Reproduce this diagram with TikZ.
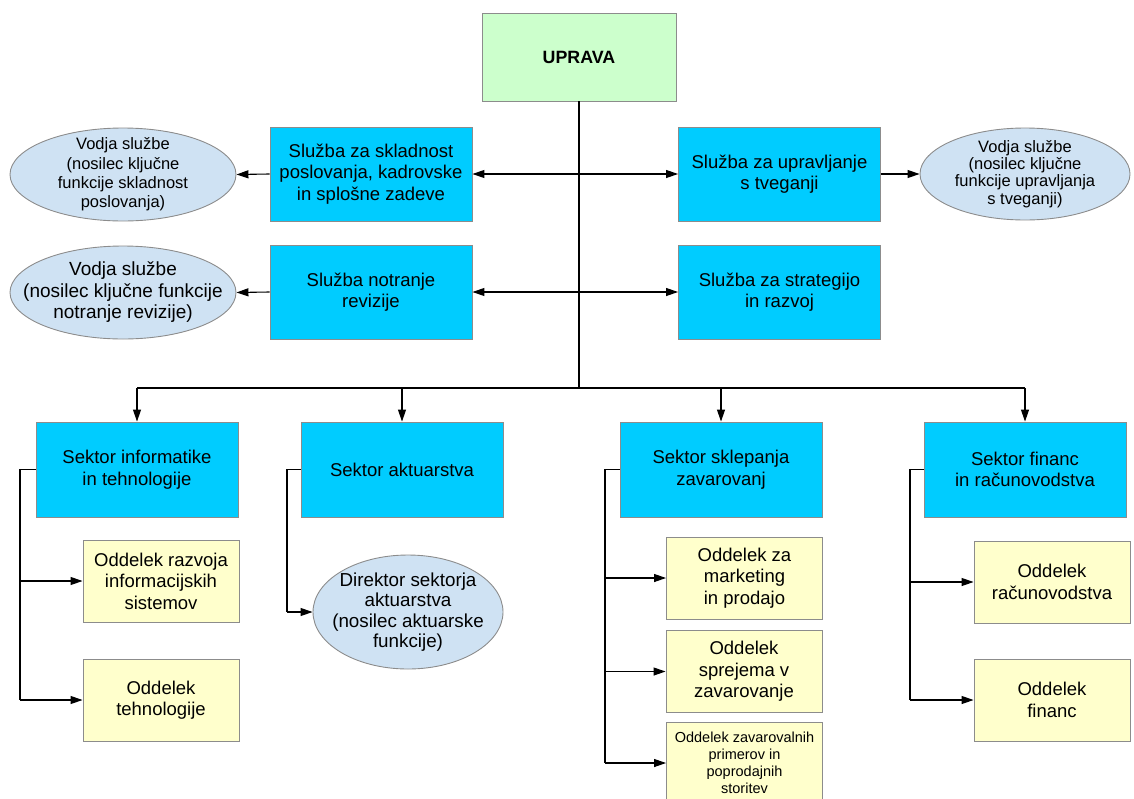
\documentclass[tikz,border=0pt]{standalone}
\usepackage{fontspec}
\setmainfont{Liberation Sans}
\usetikzlibrary{arrows.meta,shapes.geometric}
\definecolor{cyanbox}{HTML}{00CCFF}
\definecolor{yellowbox}{HTML}{FFFFCC}
\definecolor{greenbox}{HTML}{CCFFCC}
\definecolor{ellblue}{HTML}{CFE2F3}
\definecolor{edgegray}{HTML}{8C8C8C}
\begin{document}
\begin{tikzpicture}[x=1pt,y=-1pt,
  box/.style={draw=edgegray, line width=0.9pt, inner sep=0pt, align=center,
    font=\fontsize{18.5}{21.5}\selectfont},
  sluzba/.style={box, fill=cyanbox, minimum width=202pt, minimum height=94pt},
  sektor/.style={box, fill=cyanbox, minimum width=202pt, minimum height=95pt},
  oddelek/.style={box, fill=yellowbox, minimum width=156pt, minimum height=82pt},
  vodja/.style={ellipse, draw=edgegray, line width=0.9pt, fill=ellblue, inner sep=0pt},
  arr/.style={-{Triangle[length=12pt,width=8pt]}, line width=1.1pt},
  ln/.style={line width=1.1pt}
]
\useasboundingbox (0,0) rectangle (1134,798);
\clip (0,0) rectangle (1134,798);

% top
\node[box, fill=greenbox, minimum width=194pt, minimum height=88pt,
  font=\fontsize{17.8}{21}\selectfont\bfseries] (uprava) at (579,57) {UPRAVA};

% sluzbe
\node[sluzba] (s1) at (371,174) {Služba za skladnost\\poslovanja, kadrovske\\in splošne zadeve};
\node[sluzba] (s2) at (779.5,174) {Služba za upravljanje\\s tveganji};
\node[sluzba] (s3) at (371,292) {Služba notranje\\revizije};
\node[sluzba] (s4) at (779.5,292) {Služba za strategijo\\in razvoj};

% ellipses
\node[vodja, minimum width=226pt, minimum height=93pt,
  label={[align=center, font=\fontsize{16.5}{19.3}\selectfont]center:{Vodja službe\\(nosilec ključne\\funkcije skladnost\\poslovanja)}}] (e1) at (123,174.5) {};
\node[vodja, minimum width=226pt, minimum height=93pt,
  label={[align=center, font=\fontsize{19}{21.5}\selectfont]center:{Vodja službe\\(nosilec ključne funkcije\\notranje revizije)}}] (e2) at (123,292.5) {};
\node[vodja, minimum width=210pt, minimum height=92pt,
  label={[align=center, font=\fontsize{16.5}{17.3}\selectfont]center:{Vodja službe\\(nosilec ključne\\funkcije upravljanja\\s tveganji)}}] (e3) at (1025,174) {};

% trunk
\coordinate (j1) at (579,174);
\coordinate (j2) at (579,292);
\coordinate (bus) at (579,388);
\draw[ln] (uprava.south) -- (bus);
\draw[arr] (j1) -- (s1.east);
\draw[arr] (j1) -- (s2.west);
\draw[arr] (j2) -- (s3.east);
\draw[arr] (j2) -- (s4.west);
\draw[arr] (s1.west) -- (e1.east);
\draw[arr] (s3.west) -- (e2.east);
\draw[arr] (s2.east) -- (e3.west);

% sektorji
\node[sektor] (k1) at (137,469.5) {Sektor informatike\\in tehnologije};
\node[sektor] (k2) at (402,469.5) {Sektor aktuarstva};
\node[sektor] (k3) at (721,469.5) {Sektor sklepanja\\zavarovanj};
\node[sektor] (k4) at (1025,469.5) {Sektor financ\\in računovodstva};

\draw[ln] (k1.north |- bus) -- (k4.north |- bus);
\foreach \k in {k1,k2,k3,k4}{\draw[arr] (\k.north |- bus) -- (\k.north);}

% oddelki
\node[oddelek] (o1) at (161,581) {Oddelek razvoja\\informacijskih\\sistemov};
\node[oddelek] (o2) at (161,700) {Oddelek\\tehnologije};
\node[vodja, minimum width=190pt, minimum height=114pt,
  label={[align=center, font=\fontsize{18.8}{20.5}\selectfont]center:{Direktor sektorja\\aktuarstva\\(nosilec aktuarske\\funkcije)}}] (dir) at (408,612) {};
\node[oddelek] (o3) at (744.5,578) {Oddelek za\\marketing\\in prodajo};
\node[oddelek] (o4) at (744,671.5) {Oddelek\\sprejema v\\zavarovanje};
\node[oddelek, font=\fontsize{14.5}{17}\selectfont] (o5) at (744.5,763) {Oddelek zavarovalnih\\primerov in\\poprodajnih\\storitev};
\node[oddelek] (o6) at (1052,582) {Oddelek\\računovodstva};
\node[oddelek] (o7) at (1052,700) {Oddelek\\financ};

% branches
\coordinate (b1) at (20,469.5);
\draw[ln] (k1.west) -- (b1) -- (b1 |- o2.west);
\draw[arr] (b1 |- o1.west) -- (o1.west);
\draw[arr] (b1 |- o2.west) -- (o2.west);

\coordinate (b2) at (287,469.5);
\draw[ln] (k2.west) -- (b2) -- (b2 |- dir.west);
\draw[arr] (b2 |- dir.west) -- (dir.west);

\coordinate (b3) at (605,469.5);
\draw[ln] (k3.west) -- (b3) -- (b3 |- o5.west);
\draw[arr] (b3 |- o3.west) -- (o3.west);
\draw[arr] (b3 |- o4.west) -- (o4.west);
\draw[arr] (b3 |- o5.west) -- (o5.west);

\coordinate (b4) at (910,469.5);
\draw[ln] (k4.west) -- (b4) -- (b4 |- o7.west);
\draw[arr] (b4 |- o6.west) -- (o6.west);
\draw[arr] (b4 |- o7.west) -- (o7.west);
\end{tikzpicture}
\end{document}
